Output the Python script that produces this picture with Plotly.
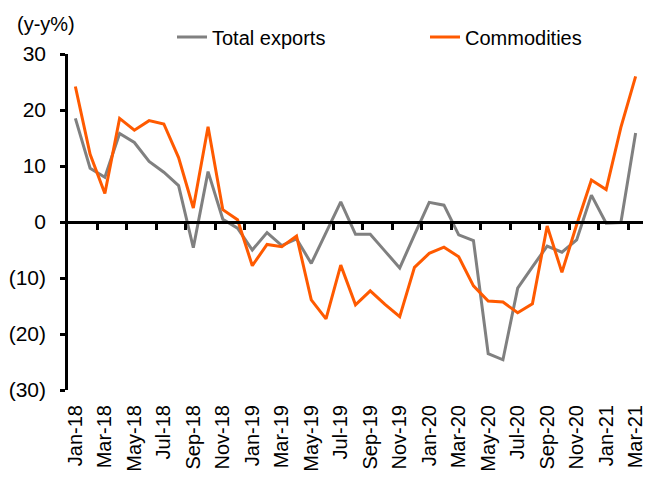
import plotly.graph_objects as go

months = ["Jan-18", "Feb-18", "Mar-18", "Apr-18", "May-18", "Jun-18", "Jul-18", "Aug-18", "Sep-18", "Oct-18", "Nov-18", "Dec-18",
          "Jan-19", "Feb-19", "Mar-19", "Apr-19", "May-19", "Jun-19", "Jul-19", "Aug-19", "Sep-19", "Oct-19", "Nov-19", "Dec-19",
          "Jan-20", "Feb-20", "Mar-20", "Apr-20", "May-20", "Jun-20", "Jul-20", "Aug-20", "Sep-20", "Oct-20", "Nov-20", "Dec-20",
          "Jan-21", "Feb-21", "Mar-21"]

total_exports = [18.5, 9.6, 8.0, 15.8, 14.2, 10.8, 8.9, 6.5, -4.6, 9.0, 0.5, -1.1,
                 -5.0, -1.9, -4.2, -3.0, -7.4, -2.0, 3.6, -2.2, -2.2, -5.2, -8.2, -2.3,
                 3.5, 3.0, -2.3, -3.3, -23.5, -24.6, -11.8, -8.0, -4.3, -5.4, -3.2, 4.8,
                 -0.2, -0.1, 15.9]

commodities = [24.2, 12.1, 5.1, 18.5, 16.4, 18.1, 17.5, 11.5, 2.5, 17.0, 2.2, 0.4,
               -7.8, -4.0, -4.4, -2.5, -13.9, -17.3, -7.7, -14.8, -12.3, -14.7, -16.9, -8.1,
               -5.6, -4.5, -6.2, -11.4, -14.1, -14.3, -16.2, -14.6, -0.7, -9.0, -0.5, 7.5,
               5.8, 16.9, 26.0]

y_tick_vals = [-30, -20, -10, 0, 10, 20, 30]
y_tick_text = ["(30)", "(20)", "(10)", "0", "10", "20", "30"]

FONT = "Liberation Sans, Arial, sans-serif"
n = len(months)
label_months = months[::2]
boundary_ticks = [i + 1.5 for i in range(0, n - 1, 2)]

# the page body adds an 8px offset; the figure is sized so the plot lands where the reference has it
OFF = 8
W, H = 651 - OFF, 477 - OFF
L, R, T, B = 68 - OFF, 8, 54 - OFF, 87
PW, PH = W - L - R, H - T - B


def px_x(page_x):
    return (page_x - OFF - L) / PW


def px_y(page_y):
    return 1 + (T - (page_y - OFF)) / PH


fig = go.Figure()
fig.add_trace(go.Scatter(x=months, y=total_exports, name="Total exports", mode="lines",
                         line=dict(color="#808080", width=3)))
fig.add_trace(go.Scatter(x=months, y=commodities, name="Commodities", mode="lines",
                         line=dict(color="#FF5A00", width=3)))
# helper trace so the zero-line axis is drawn
fig.add_trace(go.Scatter(x=[None], y=[None], xaxis="x2", yaxis="y", showlegend=False,
                         hoverinfo="skip"))

fig.update_layout(
    width=W, height=H,
    margin=dict(l=L, r=R, t=T, b=B, autoexpand=False),
    paper_bgcolor="white", plot_bgcolor="white",
    font=dict(family=FONT, size=18, color="black"),
    showlegend=True,
    legend=dict(orientation="h", x=px_x(172), y=px_y(37),
                xanchor="left", yanchor="middle",
                font=dict(size=20, family=FONT), entrywidthmode="pixels", entrywidth=208,
                bgcolor="rgba(0,0,0,0)"),
    xaxis=dict(type="category", categoryorder="array", categoryarray=months,
               range=[-0.5, n - 0.5], tickmode="array", tickvals=label_months,
               ticktext=label_months, tickangle=-90, ticks="", showline=False,
               showgrid=False, zeroline=False, ticklabelstandoff=10, automargin=False,
               tickfont=dict(size=20, family=FONT)),
    xaxis2=dict(overlaying="x", anchor="free", position=0.5, range=[-0.5, n - 0.5],
                tickmode="array", tickvals=boundary_ticks, showticklabels=False,
                ticks="outside", ticklen=6, tickwidth=2.5, tickcolor="black",
                showline=True, linewidth=2.5, linecolor="black", automargin=False,
                showgrid=False, zeroline=False, side="bottom"),
    yaxis=dict(range=[-30, 30], tickmode="array", tickvals=y_tick_vals, ticktext=y_tick_text,
               ticks="outside", ticklen=5, tickwidth=2.5, tickcolor="black",
               showline=True, linewidth=2.5, linecolor="black", automargin=False,
               showgrid=False, zeroline=False, ticklabelstandoff=10,
               tickfont=dict(size=21, family=FONT)),
    annotations=[dict(text="(y-y%)", xref="paper", yref="paper", x=px_x(15),
                      y=px_y(24), xanchor="left", yanchor="middle", showarrow=False,
                      font=dict(size=20, family=FONT))],
)

fig.write_html("out.html")
